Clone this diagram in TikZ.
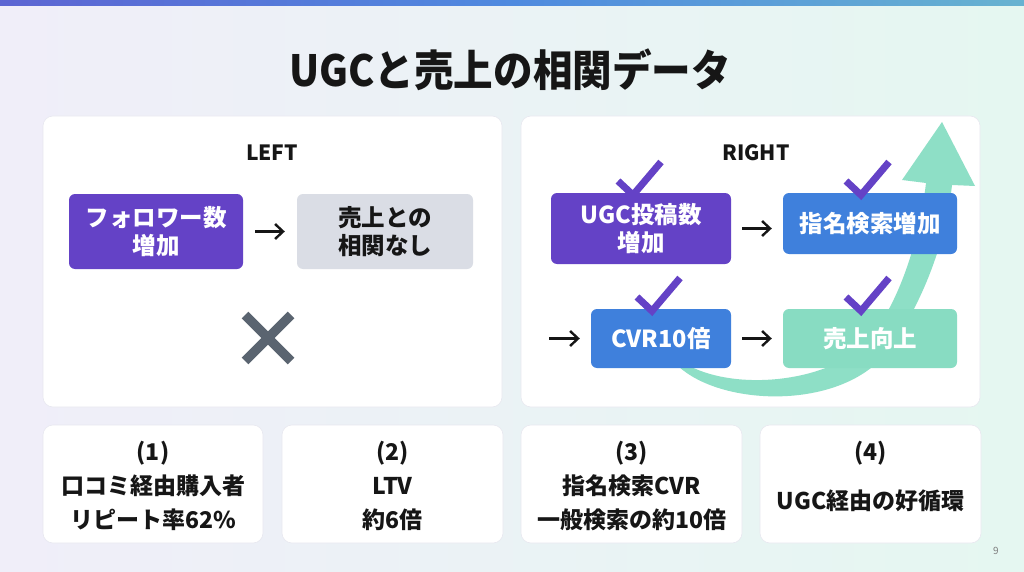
\documentclass[tikz,border=0pt]{standalone}
\usepackage{fontspec}
\setmainfont{Noto Sans CJK JP}
\usetikzlibrary{arrows.meta}
\definecolor{purp}{HTML}{6442C6}
\definecolor{blu}{HTML}{3F80DC}
\definecolor{gry}{HTML}{DADDE5}
\definecolor{mint}{HTML}{88DCC2}
\definecolor{amint}{HTML}{8EDFC6}
\definecolor{xgray}{HTML}{5A6470}
\definecolor{ink}{HTML}{161616}
\definecolor{bgl}{HTML}{F0EEF9}
\definecolor{bgr}{HTML}{E5F7F1}
\definecolor{barA}{HTML}{6A3FC6}
\definecolor{barB}{HTML}{4F8ADF}
\definecolor{barC}{HTML}{80DBC2}
\definecolor{edge}{HTML}{E8E8F0}
\pgfdeclarehorizontalshading{topbar}{100bp}{color(0bp)=(barA); color(50bp)=(barB); color(100bp)=(barC)}
\tikzset{
  panel/.style={fill=white, draw=edge, line width=0.6pt, rounded corners=10pt},
  flowbox/.style={rounded corners=6pt, inner sep=0pt, align=center, font=\fontsize{23.5}{28}\selectfont\bfseries},
  conn/.style={draw=ink, line width=2.4pt, -{Straight Barb[length=8pt,width=15pt,line width=2.4pt]}},
  tick/.style={draw=purp, line width=7pt, line cap=butt, line join=miter},
  cardtext/.style={align=center, text=ink, font=\fontsize{23}{34}\selectfont\bfseries},
  hdr/.style={text=ink, font=\fontsize{21}{25}\selectfont\bfseries}
}
\begin{document}
\begin{tikzpicture}[x=1pt,y=-1pt]
\useasboundingbox (0,0) rectangle (1024,572);
% background
\shade[left color=bgl, right color=bgr] (0,0) rectangle (1024,572);
\shade[shading=topbar] (0,0) rectangle (1024,6);
% title
\node[text=ink, font=\fontsize{43}{48}\selectfont\bfseries] (title) at (510,70) {\scalebox{0.92}[1]{UGCと売上の相関データ}};
% panels
\node[panel, minimum width=459pt, minimum height=291pt, inner sep=0pt] (lp) at (272.5,261.5) {};
\node[panel, minimum width=459pt, minimum height=291pt, inner sep=0pt] (rp) at (750.5,261.5) {};
\node[hdr] (lhdr) at (272,153) {LEFT};
\node[hdr] (rhdr) at (756,153) {RIGHT};
% left flow
\node[flowbox, fill=purp, text=white, minimum width=174pt, minimum height=75pt] (fol) at (156,231.5) {フォロワー数\\増加};
\node[flowbox, fill=gry, text=ink, minimum width=176pt, minimum height=75pt] (sou) at (385,231.5) {売上との\\相関なし};
\draw[conn, shorten <=12pt, shorten >=12pt] (fol) -- (sou);
% X mark
\draw[xgray, line width=9.5pt] (245,315) -- (291,361);
\draw[xgray, line width=9.5pt] (291,315) -- (245,361);
% big curved arrow (behind boxes)
\fill[amint] (678,366) .. controls (720,405) and (830,410) .. (880,360)
  .. controls (915,320) and (945,250) .. (952,185)
  -- (975,186) -- (942,122) -- (902,180) -- (926,183)
  .. controls (918,250) and (895,310) .. (865,345)
  .. controls (820,385) and (730,390) .. (686,364) -- cycle;
% right flow
\node[flowbox, fill=purp, text=white, minimum width=180pt, minimum height=71pt] (ugc) at (641,228.5) {UGC投稿数\\増加};
\node[flowbox, fill=blu, text=white, minimum width=174pt, minimum height=61pt] (shm) at (870,223.5) {指名検索増加};
\node[flowbox, fill=blu, text=white, minimum width=140pt, minimum height=59pt] (cvr) at (661,338.5) {CVR10倍};
\node[flowbox, fill=mint, text=white, minimum width=174pt, minimum height=59pt] (uri) at (870,338.5) {売上向上};
\coordinate (inl) at (549,338.5);
\draw[conn, shorten <=11pt, shorten >=11pt] (ugc.east) -- (ugc.east -| shm.west);
\draw[conn, shorten >=11pt] (inl) -- (cvr.west);
\draw[conn, shorten <=11pt, shorten >=11pt] (cvr) -- (uri);
% check marks
\foreach \vx/\vy in {633/195, 861/195, 652/311, 861/311}{
  \draw[tick] (\vx-15,\vy-14) -- (\vx,\vy) -- (\vx+28,\vy-33);
}
% cards
\node[panel, minimum width=220pt, minimum height=118pt, inner sep=0pt] (c1) at (153,484) {};
\node[panel, minimum width=221pt, minimum height=118pt, inner sep=0pt] (c2) at (392.5,484) {};
\node[panel, minimum width=221pt, minimum height=118pt, inner sep=0pt] (c3) at (631.5,484) {};
\node[panel, minimum width=221pt, minimum height=118pt, inner sep=0pt] (c4) at (870.5,484) {};
\node[cardtext] (t1) at (153,486) {(1)\\口コミ経由購入者\\リピート率62\%};
\node[cardtext] (t2) at (392.5,486) {(2)\\LTV\\約6倍};
\node[cardtext] (t3) at (631.5,486) {(3)\\指名検索CVR\\一般検索の約10倍};
\node[cardtext] (t4) at (870.5,476) {(4)\\[15pt]UGC経由の好循環};
% page number
\node[text=gray, font=\fontsize{10}{12}\selectfont] (pg) at (996,551) {9};
\end{tikzpicture}
\end{document}
